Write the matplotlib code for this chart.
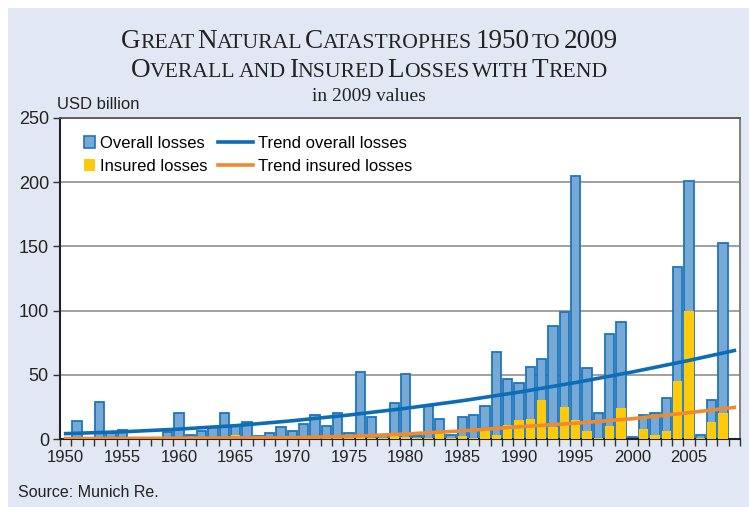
import numpy as np
import matplotlib
matplotlib.use("Agg")
from matplotlib import pyplot as plt
import matplotlib.patches as mpatches
from matplotlib.lines import Line2D
from matplotlib.legend_handler import HandlerPatch

# data (USD billion, 2009 values)
years = list(range(1950, 2010))
overall = [0, 14, 0, 28.5, 4.5, 7, 0, 0, 0, 5.5,
           20, 3, 6, 9.5, 20.5, 10, 13.5, 2, 5, 9.5,
           6.5, 11.5, 19, 10, 20, 4.5, 52, 17.5, 3, 28,
           51, 2.5, 25.5, 15.5, 3, 17, 18.5, 26, 67.5, 46.5,
           44, 56, 62, 88, 99, 205, 55, 20, 81.5, 91.5,
           1.5, 19, 20, 32, 134, 201, 3.5, 30, 153, 0]
insured = [0, 0, 0, 0, 0, 0, 0, 0, 0, 0,
           0, 0, 0, 0, 0, 3, 0.5, 0, 0.5, 0.5,
           0.5, 0.5, 1, 1, 3.5, 1, 1.5, 1, 1, 5,
           1.5, 0.5, 1, 6.5, 1, 2, 0.5, 7.5, 3, 11,
           15, 15.5, 30.5, 9.5, 25, 15, 6, 1, 10.5, 24.5,
           0.3, 7.5, 3.5, 6, 45, 99.5, 0.5, 13.5, 20.5, 0]

# trend curves, read at a few years
trend_years = [1950, 1955, 1960, 1965, 1970, 1975, 1980, 1985, 1990, 1995, 2000, 2005, 2009]
trend_overall = [4.2, 5.6, 7.7, 10.4, 14.2, 18.7, 23.9, 29.8, 36.5, 44.0, 52.2, 61.2, 68.9]
trend_insured = [0.4, 0.5, 0.6, 0.8, 1.1, 2.0, 3.9, 6.3, 9.5, 12.3, 15.8, 20.5, 24.6]

W, H = 749, 507
BG = "#E1E8F4"
BLUE_FILL = "#78A9D5"
BLUE_EDGE = "#1B76BD"
YELLOW = "#FFCA0A"
TREND_BLUE = "#0B6DB7"
TREND_ORANGE = "#F08A30"

fig = plt.figure(figsize=(W / 100, H / 100), dpi=100, facecolor="white")
fig.patches.append(mpatches.Rectangle((8 / W, 0), 1, 1 - 8 / H, transform=fig.transFigure,
                                      facecolor=BG, edgecolor="none", zorder=-10))

ax = fig.add_axes([60 / W, (H - 439) / H, 680 / W, 321 / H])
ax.set_facecolor("white")

ax.bar(years, overall, width=0.8, color=BLUE_FILL, edgecolor=BLUE_EDGE, linewidth=1.3, zorder=2)
ax.bar(years, insured, width=0.8, color=YELLOW, edgecolor="none", zorder=3)
ax.plot(trend_years, trend_overall, color=TREND_BLUE, lw=2.6, zorder=4)
ax.plot(trend_years, trend_insured, color=TREND_ORANGE, lw=2.6, zorder=4)

ax.set_xlim(1949.5, 2009.5)
ax.set_ylim(0, 250)
ax.set_yticks(range(0, 251, 50))
ax.yaxis.grid(True, color="#999999", lw=1.3, zorder=0)
ax.set_axisbelow(True)

# ticks at category boundaries, labels at every fifth year
ax.set_xticks(np.arange(1949.5, 2010, 1))
ax.set_xticklabels([])
ax.set_xticks(range(1950, 2010, 5), minor=True)
ax.set_xticklabels([str(y) for y in range(1950, 2010, 5)], minor=True)
ax.tick_params(axis="x", which="major", direction="out", length=5, width=1, color="#333333")
ax.tick_params(axis="x", which="minor", length=0, pad=8, labelsize=12)
ax.tick_params(axis="y", direction="out", length=5, width=1, color="#333333", labelsize=13, pad=3)
for lab in ax.get_xticklabels(minor=True) + ax.get_yticklabels():
    lab.set_fontfamily("Liberation Sans")
    lab.set_color("#222222")

ax.spines["left"].set_color("#222222")
ax.spines["bottom"].set_color("#222222")
ax.spines["left"].set_linewidth(1.5)
ax.spines["bottom"].set_linewidth(1.5)
ax.spines["top"].set_color("#555555")
ax.spines["right"].set_color("#777777")
ax.spines["top"].set_linewidth(1.3)
ax.spines["right"].set_linewidth(1.3)


def small_box(legend, orig_handle, xdescent, ydescent, width, height, fontsize):
    return mpatches.Rectangle((width - 8, height / 2 - 4.5), 8, 9)


handles = [mpatches.Patch(facecolor=BLUE_FILL, edgecolor=BLUE_EDGE, lw=1.2),
           mpatches.Patch(facecolor=YELLOW, edgecolor="none"),
           Line2D([], [], color=TREND_BLUE, lw=2.6),
           Line2D([], [], color=TREND_ORANGE, lw=2.6)]
labels = ["Overall losses", "Insured losses", "Trend overall losses", "Trend insured losses"]
ax.legend(handles, labels, ncol=2, loc="upper left", bbox_to_anchor=(0.0, 0.945),
          frameon=False, borderpad=0, borderaxespad=0, handlelength=2.1,
          handletextpad=0.3, columnspacing=0.6, labelspacing=0.48,
          prop={"family": "Liberation Sans", "size": 12},
          handler_map={mpatches.Patch: HandlerPatch(patch_func=small_box)})

fig.text(57 / W, (H - 109) / H, "USD billion", family="Liberation Sans", fontsize=12,
         color="#222222", va="baseline")
fig.text(18 / W, (H - 497) / H, "Source: Munich Re.", family="Liberation Sans", fontsize=11.5,
         color="#222222", va="baseline")


# title in small caps: capitals and digits large, lower case letters as small capitals
def small_caps(text, y_px, big, small, cx=369):
    r = fig.canvas.get_renderer()
    serif = "Liberation Serif"

    def width(s, size):
        t = fig.text(0, 0, s, family=serif, fontsize=size)
        w = t.get_window_extent(r).width
        t.remove()
        return w

    space = width("A A", small) - width("AA", small)
    pieces = []
    x = 0
    for k, word in enumerate(text.split(" ")):
        if k:
            x += space
        runs = []
        for ch in word:
            is_big = not ch.islower()
            if runs and runs[-1][1] == is_big:
                runs[-1][0] += ch
            else:
                runs.append([ch, is_big])
        for s, is_big in runs:
            size = big if is_big else small
            t = fig.text(0, (H - y_px) / H, s.upper(), family=serif, fontsize=size,
                         color="#222222", va="baseline", ha="left")
            pieces.append((t, x))
            x += t.get_window_extent(r).width
    start = cx - x / 2
    for t, off in pieces:
        t.set_x((start + off) / W)


small_caps("Great Natural Catastrophes 1950 to 2009", 48, 19.5, 15.6)
small_caps("Overall and Insured Losses with Trend", 77, 19.5, 15.6)
fig.text(369 / W, (H - 101) / H, "in 2009 values", family="Liberation Serif", fontsize=14,
         color="#222222", ha="center", va="baseline")

fig.savefig("out.png", dpi=100, facecolor=fig.get_facecolor())
